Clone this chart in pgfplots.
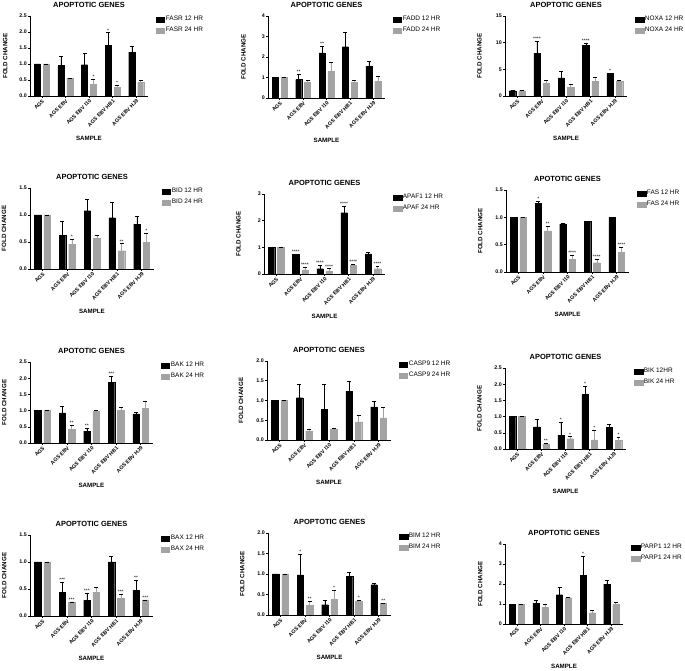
\documentclass[border=0pt]{standalone}
\usepackage{fontspec}
\setmainfont{Liberation Sans}
\usepackage{pgfplots}
\usepackage{pgfplotstable}
\pgfplotsset{compat=1.18}
\definecolor{bargray}{RGB}{163,163,163}
\newdimen\ebdy
\newcommand\fs[1]{\fontsize{#1}{#1}\selectfont}
\newcommand\sig[3]{\node[font=\fs{5}, anchor=south, inner sep=0.4bp] at (axis cs:#1,#2) {#3};}
\pgfplotsset{
  error bars/draw error bar/.code 2 args={%
    \path #1 coordinate (ebA);
    \path #2 coordinate (ebB);
    \pgfextracty{\ebdy}{\pgfpointdiff{\pgfpointanchor{ebA}{center}}{\pgfpointanchor{ebB}{center}}}%
    \ifdim\ebdy>0.3pt
      \draw[black, line width=0.7bp] (ebA) -- (ebB);
      \draw[black, line width=0.7bp] ([xshift=-2bp]ebB) -- ([xshift=2bp]ebB);
    \fi
  },
  gp/.style={
    scale only axis, anchor=south west,
    axis lines*=left, axis line style={line width=0.6bp},
    ymin=0, xmin=-0.5, xmax=4.5,
    xtick={0,1,2,3,4},
    xticklabels={AGS,AGS EBV,AGS EBV I10,AGS EBV HB1,AGS EBV HJ9},
    x tick label style={rotate=45, anchor=north east, font=\bfseries\fs{5.3}, inner sep=0.6bp},
    y tick label style={font=\bfseries\fs{5.3}, inner sep=1bp},
    /pgf/number format/assume math mode=true,
    tick style={black, line width=0.5bp},
    major tick length=2bp, tick align=outside,
    xtick pos=left, ytick pos=left,
    title style={font=\bfseries\fs{7.5}, at={(axis description cs:0.5,1)}, anchor=south, yshift=2bp, inner sep=0pt},
    xlabel={SAMPLE}, ylabel={FOLD CHANGE},
    every axis x label/.style={at={(axis description cs:0.5,0)}, anchor=north, yshift=-37bp, font=\bfseries\fs{6.2}},
    every axis y label/.style={at={(axis description cs:-0.21,0.5)}, anchor=center, rotate=90, font=\bfseries\fs{6.2}},
    legend style={draw=none, fill=none, at={(1,1)}, anchor=north west, xshift=8bp, yshift=1bp, font=\fs{6.5}, row sep=2.6bp, inner sep=0pt, nodes={inner sep=1.2bp}},
    legend cell align=left,
    ybar, bar width=0.26,
  },
  dec/.style={yticklabel style={/pgf/number format/fixed, /pgf/number format/fixed zerofill, /pgf/number format/precision=1}},
  b12/.style={fill=black, draw=black, line width=0.2bp, bar shift=-0.19,
    legend image code/.code={\fill[black] (0bp,-2.3bp) rectangle (8.3bp,2.3bp);},
    error bars/y dir=plus, error bars/y explicit},
  b24/.style={fill=bargray, draw=bargray, line width=0.2bp, bar shift=0.19,
    legend image code/.code={\fill[bargray] (0bp,-2.3bp) rectangle (8.3bp,2.3bp);},
    error bars/y dir=plus, error bars/y explicit},
}
% x a ea b eb
\pgfplotstableread{
x a ea b eb
0 1.00 0 1.00 0
1 0.95 0.28 0.56 0
2 0.98 0.35 0.37 0.17
3 1.58 0.40 0.27 0.06
4 1.37 0.20 0.43 0.07
}\tFASR
\pgfplotstableread{
x a ea b eb
0 1.00 0 1.00 0
1 0.90 0.25 0.77 0.08
2 2.20 0.35 1.30 0.45
3 2.50 0.72 0.78 0.10
4 1.55 0.25 0.82 0.23
}\tFADD
\pgfplotstableread{
x a ea b eb
0 1.00 0 1.00 0
1 8.00 2.30 2.40 0.60
2 3.40 1.30 1.60 0.60
3 9.50 0.40 2.70 0.80
4 4.20 0.10 2.70 0.20
}\tNOXA
\pgfplotstableread{
x a ea b eb
0 1.00 0 1.00 0
1 0.62 0.27 0.46 0.10
2 1.08 0.21 0.57 0.06
3 0.95 0.28 0.34 0.13
4 0.83 0.14 0.49 0.17
}\tBID
\pgfplotstableread{
x a ea b eb
0 1.00 0 1.00 0
1 0.73 0.03 0.15 0.10
2 0.20 0.13 0.12 0.08
3 2.30 0.25 0.32 0.05
4 0.75 0.08 0.20 0.10
}\tAPAF
\pgfplotstableread{
x a ea b eb
0 1.00 0 1.00 0
1 1.26 0.04 0.75 0.09
2 0.88 0.01 0.23 0.08
3 0.93 0 0.17 0.07
4 1.00 0 0.36 0.10
}\tFAS
\pgfplotstableread{
x a ea b eb
0 1.00 0 1.00 0
1 0.93 0.20 0.42 0.12
2 0.37 0.10 0.97 0.04
3 1.87 0.20 1.00 0.10
4 0.90 0.05 1.08 0.22
}\tBAK
\pgfplotstableread{
x a ea b eb
0 1.00 0 1.00 0
1 1.07 0.35 0.23 0.05
2 0.77 0.65 0.28 0.02
3 1.24 0.24 0.46 0.17
4 0.84 0.13 0.56 0.28
}\tCASP
\pgfplotstableread{
x a ea b eb
0 1.00 0 1.00 0
1 0.68 0.25 0.16 0.03
2 0.43 0.40 0.32 0.06
3 1.68 0.27 0.28 0.30
4 0.67 0.08 0.27 0.09
}\tBIK
\pgfplotstableread{
x a ea b eb
0 1.00 0 1.00 0
1 0.44 0.19 0.26 0
2 0.29 0.13 0.44 0.09
3 1.00 0.11 0.33 0.07
4 0.48 0.19 0.30 0
}\tBAX
\pgfplotstableread{
x a ea b eb
0 1.00 0 1.00 0
1 0.98 0.50 0.23 0.10
2 0.25 0.12 0.38 0.23
3 0.94 0.10 0.34 0.03
4 0.74 0.04 0.28 0.02
}\tBIM
\pgfplotstableread{
x a ea b eb
0 1.00 0 1.00 0
1 1.05 0.15 0.85 0.15
2 1.47 0.38 1.32 0
3 2.45 0.95 0.57 0.13
4 2.00 0.20 0.98 0.12
}\tPARP
\begin{document}
\begin{tikzpicture}
\useasboundingbox (0,0) rectangle (685bp,671bp);
% Row 1
\begin{axis}[gp, dec, at={(30bp,575bp)}, width=118bp, height=80bp, ymax=2.5, ytick={0,0.5,1,1.5,2,2.5}, title={APOPTOTIC GENES}]
\addplot[b12] table[x=x,y=a,y error=ea]{\tFASR};
\addplot[b24] table[x=x,y=b,y error=eb]{\tFASR};
\legend{FASR 12 HR, FASR 24 HR}
\sig{2.19}{0.54}{*}\sig{2.81}{1.98}{*}\sig{3.19}{0.33}{*}
\end{axis}
\begin{axis}[gp, at={(268bp,573bp)}, width=117bp, height=82bp, ymax=4, ytick={0,1,2,3,4}, title={APOPTOTIC GENES}]
\addplot[b12] table[x=x,y=a,y error=ea]{\tFADD};
\addplot[b24] table[x=x,y=b,y error=eb]{\tFADD};
\legend{FADD 12 HR, FADD 24 HR}
\sig{0.81}{1.15}{**}\sig{1.81}{2.55}{**}
\end{axis}
\begin{axis}[gp, at={(505bp,575bp)}, width=122bp, height=80bp, ymax=15, ytick={0,5,10,15}, title={APOPTOTIC GENES}]
\addplot[b12] table[x=x,y=a,y error=ea]{\tNOXA};
\addplot[b24] table[x=x,y=b,y error=eb]{\tNOXA};
\legend{NOXA 12 HR, NOXA 24 HR}
\sig{0.81}{10.3}{****}\sig{2.81}{9.9}{****}\sig{3.81}{4.3}{*}
\end{axis}
% Row 2
\begin{axis}[gp, dec, at={(30bp,402bp)}, width=124bp, height=81bp, ymax=1.5, ytick={0,0.5,1,1.5}, title={APOPTOTIC GENES}]
\addplot[b12] table[x=x,y=a,y error=ea]{\tBID};
\addplot[b24] table[x=x,y=b,y error=eb]{\tBID};
\legend{BID 12 HR, BID 24 HR}
\sig{1.19}{0.56}{*}\sig{3.19}{0.47}{**}\sig{4.19}{0.66}{*}
\end{axis}
\begin{axis}[gp, at={(264bp,397bp)}, width=121bp, height=80bp, ymax=3, ytick={0,1,2,3}, title={APOPTOTIC GENES}]
\addplot[b12] table[x=x,y=a,y error=ea]{\tAPAF};
\addplot[b24] table[x=x,y=b,y error=eb]{\tAPAF};
\legend{APAF1 12 HR, APAF 24 HR}
\sig{0.81}{0.76}{****}\sig{1.19}{0.25}{****}\sig{1.81}{0.33}{****}\sig{2.19}{0.2}{****}
\sig{2.81}{2.55}{****}\sig{3.19}{0.37}{****}\sig{4.19}{0.3}{****}
\end{axis}
\begin{axis}[gp, dec, at={(506bp,399bp)}, width=123bp, height=82bp, ymax=1.5, ytick={0,0.5,1,1.5}, title={APOTOTIC GENES}]
\addplot[b12] table[x=x,y=a,y error=ea]{\tFAS};
\addplot[b24] table[x=x,y=b,y error=eb]{\tFAS};
\legend{FAS 12 HR, FAS 24 HR}
\sig{0.81}{1.30}{*}\sig{1.19}{0.84}{**}\sig{2.19}{0.31}{****}\sig{3.19}{0.24}{****}\sig{4.19}{0.46}{****}
\end{axis}
% Row 3
\begin{axis}[gp, dec, at={(30bp,228bp)}, width=123bp, height=81bp, ymax=2.5, ytick={0,0.5,1,1.5,2,2.5}, title={APOTOTIC GENES}]
\addplot[b12] table[x=x,y=a,y error=ea]{\tBAK};
\addplot[b24] table[x=x,y=b,y error=eb]{\tBAK};
\legend{BAK 12 HR, BAK 24 HR}
\sig{1.19}{0.54}{**}\sig{1.81}{0.47}{**}\sig{2.81}{2.07}{***}
\end{axis}
\begin{axis}[gp, dec, at={(267bp,231bp)}, width=124bp, height=79bp, ymax=2, ytick={0,0.5,1,1.5,2}, title={APOPTOTIC GENES}]
\addplot[b12] table[x=x,y=a,y error=ea]{\tCASP};
\addplot[b24] table[x=x,y=b,y error=eb]{\tCASP};
\legend{CASP9 12 HR, CASP9 24 HR}
\end{axis}
\begin{axis}[gp, dec, at={(505bp,222bp)}, width=121bp, height=81bp, ymax=2.5, ytick={0,0.5,1,1.5,2,2.5}, title={APOPTOTIC GENES}]
\addplot[b12] table[x=x,y=a,y error=ea]{\tBIK};
\addplot[b24] table[x=x,y=b,y error=eb]{\tBIK};
\legend{BIK 12HR, BIK 24 HR}
\sig{1.19}{0.19}{**}\sig{1.81}{0.83}{*}\sig{2.19}{0.38}{*}\sig{2.81}{1.95}{*}\sig{3.19}{0.58}{*}\sig{4.19}{0.36}{*}
\end{axis}
% Row 4
\begin{axis}[gp, dec, at={(30bp,55bp)}, width=123bp, height=81bp, ymax=1.5, ytick={0,0.5,1,1.5}, title={APOPTOTIC GENES}]
\addplot[b12] table[x=x,y=a,y error=ea]{\tBAX};
\addplot[b24] table[x=x,y=b,y error=eb]{\tBAX};
\legend{BAX 12 HR, BAX 24 HR}
\sig{0.81}{0.63}{***}\sig{1.19}{0.26}{***}\sig{1.81}{0.42}{***}\sig{3.19}{0.40}{***}\sig{3.81}{0.67}{**}\sig{4.19}{0.30}{***}
\end{axis}
\begin{axis}[gp, dec, at={(268bp,56bp)}, width=123bp, height=82bp, ymax=2, ytick={0,0.5,1,1.5,2}, title={APOPTOTIC GENES}]
\addplot[b12] table[x=x,y=a,y error=ea]{\tBIM};
\addplot[b24] table[x=x,y=b,y error=eb]{\tBIM};
\legend{BIM 12 HR, BIM 24 HR}
\sig{0.81}{1.48}{*}\sig{1.19}{0.33}{**}\sig{2.19}{0.61}{*}\sig{3.19}{0.37}{*}\sig{4.19}{0.30}{**}
\end{axis}
\begin{axis}[gp, at={(505bp,47bp)}, width=118bp, height=80bp, ymax=4, ytick={0,1,2,3,4}, title={APOPTOTIC GENES}]
\addplot[b12] table[x=x,y=a,y error=ea]{\tPARP};
\addplot[b24] table[x=x,y=b,y error=eb]{\tPARP};
\legend{PARP1 12 HR, PARP1 24 HR}
\sig{2.81}{3.4}{*}
\end{axis}
\end{tikzpicture}
\end{document}
